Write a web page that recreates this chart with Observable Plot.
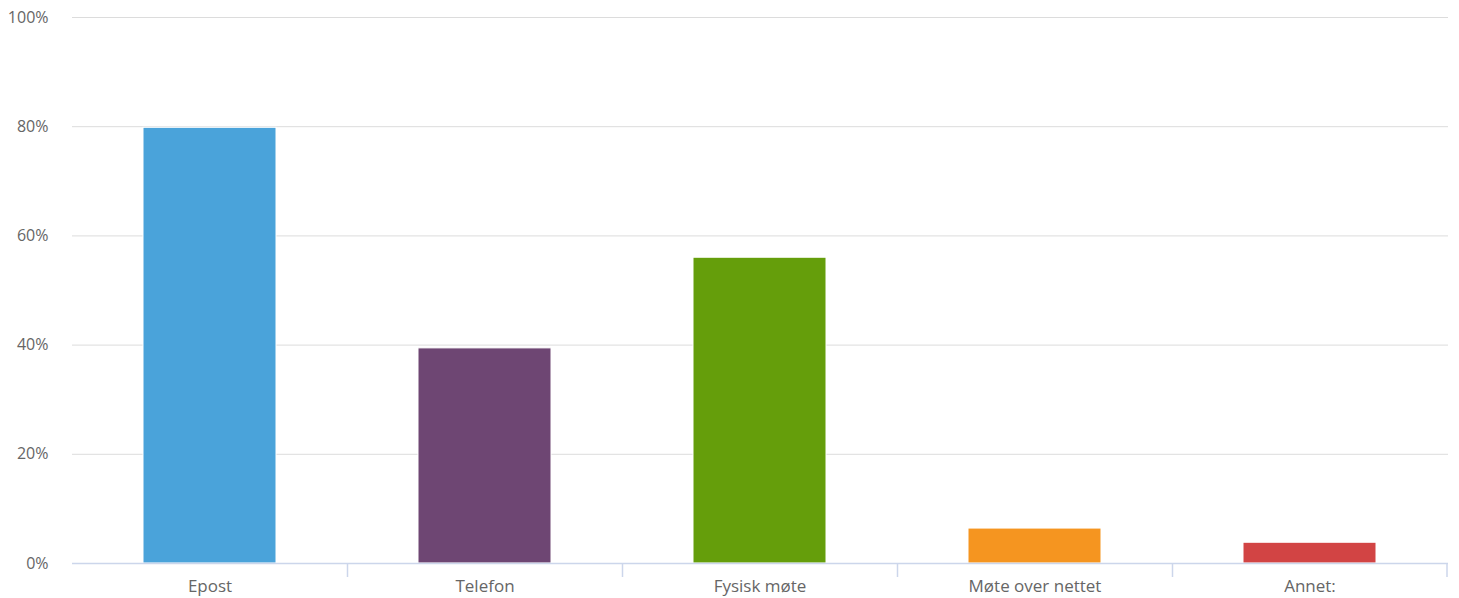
<!DOCTYPE html>
<html><head><meta charset="utf-8">
<script src="https://cdn.jsdelivr.net/npm/d3@7"></script>
<script src="https://cdn.jsdelivr.net/npm/@observablehq/plot@0.6"></script>
<style>
body{margin:0;background:#fff;}
#chart svg{font-family:"Open Sans",sans-serif;}
</style>
</head><body><div id="chart"></div>
<script>
const categories = ["Epost","Telefon","Fysisk møte","Møte over nettet","Annet:"];
const values = [79.8, 39.4, 56.0, 6.4, 3.8];
const colors = ["#4aa3da","#6e4673","#659e0b","#f59520","#d24444"];
const yTicks = [0,20,40,60,80,100];

const data = categories.map((c,i)=>({cat:c, value:values[i], color:colors[i]}));
const W = 1459, H = 598, mL = 72, mR = 12;
const step = (W - mL - mR) / categories.length;

const chart = Plot.plot({
  width: W, height: H,
  marginLeft: mL, marginRight: mR, marginTop: 17, marginBottom: 35,
  style: {fontFamily: '"Open Sans", sans-serif', fontSize: "16px", color: "#666"},
  x: {domain: categories, padding: 0, label: null},
  y: {domain: [0,100], label: null},
  marks: [
    Plot.gridY(yTicks.slice(1), {stroke: "#dcdcdc", strokeOpacity: 1, strokeWidth: 1, insetRight: -1}),
    Plot.axisY(yTicks, {tickSize: 0, tickPadding: 0, dx: -24, tickFormat: d => d + "%", fill: "#666", fontSize: 16, label: null}),
    Plot.barY(data, {x: "cat", y: "value", fill: "color", stroke: "#fff", strokeWidth: 1, insetLeft: 71, insetRight: 71}),
    Plot.ruleY([0], {stroke: "#ccd6eb", strokeWidth: 1.5, insetRight: -1}),
    Plot.ruleX(categories.slice(1), {x: d => d, y1: 0, y2: 0, dx: -step/2, stroke: "#ccd6eb", strokeWidth: 1.5, insetBottom: -14}),
    Plot.ruleX(categories.slice(-1), {x: d => d, y1: 0, y2: 0, dx: step/2 - 0.5, stroke: "#ccd6eb", strokeWidth: 1.5, insetBottom: -14}),
    Plot.axisX({tickSize: 0, tickPadding: 16, fill: "#666", fontSize: 17, label: null})
  ]
});
document.getElementById("chart").appendChild(chart);
</script>
</body></html>
